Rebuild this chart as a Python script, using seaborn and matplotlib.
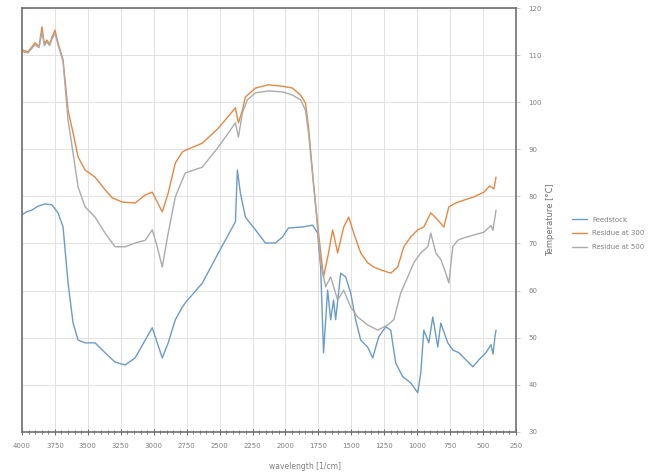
import numpy as np
import pandas as pd
import matplotlib
matplotlib.use("Agg")
import matplotlib.pyplot as plt
from matplotlib.ticker import MultipleLocator
import seaborn as sns

# Dane (liczba falowa [1/cm], wartosc)
feed_x = [4000, 3960, 3924, 3880, 3825, 3772, 3726, 3688, 3650, 3612, 3574, 3521, 3445, 3369, 3293,
          3217, 3141, 3064, 3011, 2973, 2935, 2890, 2836, 2783, 2760, 2631, 2509, 2380,
          2365, 2342, 2304, 2228, 2152, 2076, 2022, 1977, 1870, 1794, 1756, 1733, 1711,
          1680, 1657, 1635, 1619, 1581, 1543, 1505, 1467, 1429, 1376, 1338, 1292, 1239,
          1201, 1163, 1110, 1049, 996, 973, 950, 912, 882, 844, 821, 768, 730, 684, 631,
          577, 532, 479, 440, 425, 410, 402]
feed_y = [76.1, 76.8, 77.1, 77.9, 78.4, 78.2, 76.5, 73.5, 61.6, 53.1, 49.5, 48.9, 48.9, 46.8, 44.8,
          44.2, 45.7, 49.5, 52.1, 48.9, 45.7, 48.9, 53.8, 56.5, 57.4, 61.6, 68.0, 74.6,
          85.6, 80.7, 75.6, 72.9, 70.1, 70.1, 71.4, 73.3, 73.5, 73.9, 72.2, 65.0, 46.8,
          60.1, 53.8, 58.0, 53.8, 63.7, 62.9, 59.5, 53.8, 49.5, 48.0, 45.7, 50.2, 52.3,
          51.6, 44.6, 41.7, 40.4, 38.3, 42.5, 51.6, 48.9, 54.4, 48.0, 53.1, 48.9, 47.4,
          46.8, 45.3, 43.8, 45.3, 46.8, 48.5, 46.5, 50.2, 51.6]

res1_x = [4000, 3954, 3901, 3870, 3848, 3830, 3810, 3790, 3772, 3749, 3726, 3688, 3650, 3612,
          3574, 3521, 3445, 3369, 3315, 3239, 3141, 3064, 3011, 2935, 2890, 2836, 2783,
          2760, 2631, 2509, 2380, 2357, 2327, 2304, 2228, 2129, 2022, 1946, 1885, 1848,
          1825, 1787, 1749, 1711, 1673, 1642, 1604, 1558, 1520, 1482, 1429, 1376, 1330,
          1277, 1201, 1148, 1102, 1049, 996, 950, 897, 844, 798, 760, 707, 646, 570, 494,
          450, 418, 402]
res1_y = [111.1, 110.7, 112.6, 111.9, 116.0, 112.4, 113.2, 112.3, 113.8, 115.3, 112.6, 109.0,
          98.3, 93.5, 88.4, 85.6, 84.1, 81.4, 79.7, 78.8, 78.6, 80.3, 80.9, 76.7, 80.7,
          87.1, 89.4, 89.8, 91.3, 94.5, 98.8, 95.6, 98.3, 101.1, 103.0, 103.7, 103.4,
          103.0, 101.5, 99.8, 94.7, 82.8, 72.2, 62.9, 68.0, 72.9, 68.0, 73.5, 75.6, 72.2,
          68.0, 65.9, 65.0, 64.4, 63.7, 65.0, 69.3, 71.4, 72.9, 73.5, 76.5, 75.0, 73.5,
          77.8, 78.6, 79.2, 79.9, 80.9, 82.2, 81.6, 84.1]

res2_x = [4000, 3954, 3901, 3870, 3848, 3830, 3810, 3790, 3772, 3749, 3726, 3688, 3650, 3612,
          3574, 3521, 3445, 3369, 3293, 3217, 3141, 3064, 3011, 2973, 2935, 2890, 2836,
          2783, 2760, 2631, 2509, 2380, 2357, 2327, 2289, 2228, 2129, 2022, 1946, 1885,
          1848, 1825, 1771, 1733, 1695, 1657, 1604, 1558, 1505, 1452, 1376, 1300, 1224,
          1178, 1125, 1072, 1026, 973, 920, 897, 859, 821, 783, 760, 730, 692, 646, 570,
          494, 440, 425, 402]
res2_y = [110.7, 110.5, 112.2, 111.6, 115.0, 112.0, 112.8, 112.0, 113.4, 114.6, 112.2, 108.6,
          96.2, 89.2, 82.0, 77.8, 75.6, 72.2, 69.3, 69.3, 70.1, 70.7, 72.9, 69.3, 65.0,
          72.2, 79.9, 83.5, 85.0, 86.2, 90.5, 95.6, 92.6, 97.7, 100.5, 102.0, 102.4,
          102.2, 101.5, 100.5, 98.3, 93.5, 77.8, 65.9, 60.8, 62.9, 58.0, 60.1, 56.5, 54.4,
          52.7, 51.6, 52.7, 53.8, 59.5, 62.9, 65.9, 68.0, 69.3, 72.2, 68.0, 66.6, 63.7,
          61.6, 69.3, 70.7, 71.2, 71.8, 72.4, 73.8, 72.8, 77.1]

serie = ["Feedstock", "Residue at 300", "Residue at 500"]
kolory = ["#6A9CC9", "#E8873F", "#ABABAB"]

df = pd.concat([
    pd.DataFrame({"x": feed_x, "y": feed_y, "seria": serie[0]}),
    pd.DataFrame({"x": res1_x, "y": res1_y, "seria": serie[1]}),
    pd.DataFrame({"x": res2_x, "y": res2_y, "seria": serie[2]}),
])

sns.set_theme(style="whitegrid")
plt.rcParams["font.family"] = ["DejaVu Sans"]

fig = plt.figure(figsize=(6.65, 4.73), dpi=100)
ax = fig.add_axes([0.033, 0.087, 0.743, 0.896])

sns.lineplot(data=df, x="x", y="y", hue="seria", palette=kolory, sort=False,
             estimator=None, linewidth=1.0, ax=ax, legend=False)

ax.set_xlim(4000, 250)
ax.set_ylim(30, 120)
ax.xaxis.set_major_locator(MultipleLocator(250))
ax.xaxis.set_minor_locator(MultipleLocator(50))
ax.yaxis.set_major_locator(MultipleLocator(10))
ax.yaxis.tick_right()
ax.yaxis.set_label_position("right")

ax.grid(True, which="major", color="#e2e2e2", linewidth=0.7)
for s in ax.spines.values():
    s.set_color("#707070")
    s.set_linewidth(1.2)

ax.tick_params(axis="x", which="major", direction="inout", length=4, width=0.8,
               colors="#707070", labelsize=5, labelcolor="#808080", bottom=True, pad=6)
ax.tick_params(axis="x", which="minor", direction="inout", length=3, width=0.6,
               colors="#707070", bottom=True)
ax.tick_params(axis="y", direction="out", length=3, width=0.6, colors="#c0c0c0",
               labelsize=5, labelcolor="#808080", right=True, pad=6)

ax.set_xlabel("wavelength [1/cm]", fontsize=5.5, color="#808080")
ax.xaxis.set_label_coords(0.573, -0.07)
ax.set_ylabel("Temperature [°C]", fontsize=6, color="#707070", labelpad=3)

uchwyty = [plt.Line2D([], [], color=k, linewidth=1.0) for k in kolory]
fig.legend(uchwyty, serie, loc="upper left", bbox_to_anchor=(0.85, 0.555),
           frameon=False, fontsize=5, labelcolor="#808080", handlelength=2.2,
           labelspacing=1.1)

fig.savefig("out.png", dpi=100)
